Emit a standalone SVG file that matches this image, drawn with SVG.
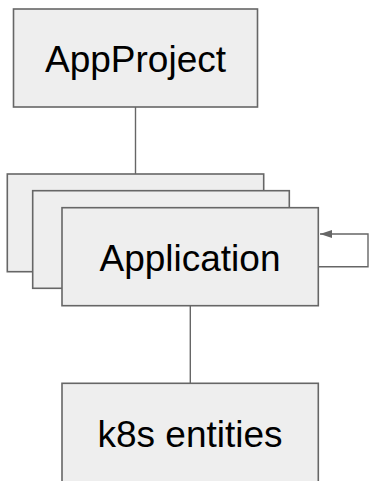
<svg xmlns="http://www.w3.org/2000/svg" width="369" height="481" viewBox="0 0 369 481">
  <style>
    .box { fill: #eeeeee; stroke: #666666; stroke-width: 1.6; }
    .label { font-family: "Liberation Sans", Arial, sans-serif; font-size: 37px; fill: #000000; text-anchor: middle; }
    .link { fill: none; stroke: #666666; stroke-width: 1.4; }
  </style>
  <defs>
    <marker id="arrow" viewBox="0 0 12 8" refX="12" refY="4" markerWidth="12" markerHeight="8" markerUnits="userSpaceOnUse" orient="auto">
      <path d="M0,0 L12,4 L0,8 z" fill="#666666"/>
    </marker>
  </defs>
  <rect width="369" height="481" fill="#ffffff"/>

  <g id="connectors">
    <line class="link" x1="135.5" y1="107" x2="135.5" y2="174"/>
    <line class="link" x1="190.3" y1="305.7" x2="190.3" y2="383.3"/>
    <path class="link" d="M318.3,266.7 H368 V234 H320" marker-end="url(#arrow)"/>
  </g>

  <g id="appproject">
    <rect class="box" x="13.5" y="9" width="244" height="98"/>
    <text class="label" x="135.5" y="72">AppProject</text>
  </g>

  <g id="application">
    <rect class="box" x="7.3" y="174" width="256.4" height="97.7"/>
    <rect class="box" x="32.7" y="190.7" width="256.6" height="97.6"/>
    <rect class="box" x="62" y="207.7" width="256.3" height="98"/>
    <text class="label" x="190" y="271">Application</text>
  </g>

  <g id="k8s-entities">
    <rect class="box" x="62" y="383.3" width="256.3" height="110"/>
    <text class="label" x="190" y="446.7">k8s entities</text>
  </g>
</svg>
